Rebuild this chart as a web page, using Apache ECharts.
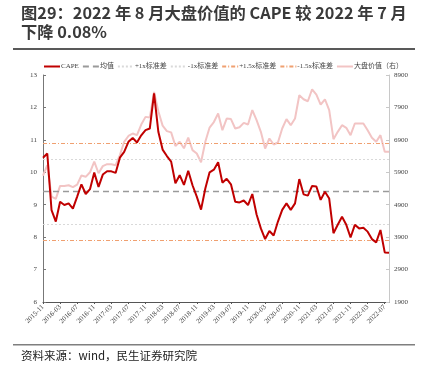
<!DOCTYPE html>
<html><head><meta charset="utf-8">
<script src="https://cdn.jsdelivr.net/npm/echarts@6/dist/echarts.min.js"></script>
<style>html,body{margin:0;padding:0;background:#fff}#c{width:428px;height:370px}</style>
</head><body><div id="c"></div>
<script>
// categories: monthly 2015-11 .. 2022-08
const months = [];
(function(){ let y=2015,m=11; for(let i=0;i<82;i++){ months.push(y+'-'+(m<10?'0'+m:m)); m++; if(m>12){m=1;y++;} } })();

const cape = [10.45,10.58,8.83,8.48,9.09,8.99,9.04,8.88,9.25,9.63,
  9.33,9.48,9.99,9.55,9.93,10.03,10.03,9.98,10.45,10.63,
  10.94,11.06,10.92,11.14,11.30,11.35,12.43,11.25,10.70,10.50,
  10.33,9.66,9.91,9.61,10.05,9.60,9.25,8.85,9.50,10.00,
  10.08,10.31,9.68,9.80,9.63,9.09,9.07,9.13,8.99,9.33,
  8.70,8.27,7.94,8.19,8.05,8.48,8.84,9.04,8.84,9.04,
  9.79,9.32,9.28,9.58,9.56,9.15,9.40,9.19,8.12,8.38,
  8.63,8.38,7.99,8.38,8.27,8.29,8.17,7.94,7.84,8.22,
  7.53,7.52];
const largeValue = [5800,6120,5150,5080,5480,5480,5500,5440,5520,5800,
  5760,5900,6230,5870,6090,6150,6150,6120,6430,6840,
  7020,7096,7045,7373,7609,7588,8380,7780,7340,7170,
  7130,6710,6840,6640,6970,6583,6480,6210,6840,7280,
  7450,7711,7198,7557,7540,7250,7290,7424,7373,7820,
  7506,7147,6634,6942,6757,6819,7250,7537,7352,7557,
  8275,8152,8091,8460,8296,7988,8152,7814,6922,7147,
  7352,7270,7045,7404,7404,7404,7198,6963,6840,7045,
  6532,6532];
const statNames = ['均值','+1x标准差','-1x标准差','+1.5x标准差','-1.5x标准差'];
const statValues = [9.4, 10.4, 8.4, 10.9, 7.9];

const statStyles = [
  {color:'#9a9a9a', type:[6,4], width:1.3},
  {color:'#d9d9d9', type:[2,2], width:1},
  {color:'#d9d9d9', type:[2,2], width:1},
  {color:'#f0a070', type:[4,2,1,2], width:1},
  {color:'#f0a070', type:[4,2,1,2], width:1}
];

const chart = echarts.init(document.getElementById('c'), null, {renderer:'canvas'});
const serif = '"Liberation Serif","Noto Sans CJK SC",serif';
const series = [{
  name:'CAPE', type:'line', data:cape, yAxisIndex:0, symbol:'none', z:5,
  lineStyle:{color:'#c00000', width:2}, itemStyle:{color:'#c00000'}
}];
statNames.forEach((n,i)=>{
  series.push({
    name:n, type:'line', data:[], yAxisIndex:0, symbol:'none',
    lineStyle:statStyles[i], itemStyle:{color:statStyles[i].color},
    markLine:{silent:true, symbol:'none', label:{show:false},
      lineStyle:statStyles[i], data:[{yAxis:statValues[i], label:{show:false}}]}
  });
});
series.push({
  name:'大盘价值（右）', type:'line', data:largeValue, yAxisIndex:1, symbol:'none', z:3,
  lineStyle:{color:'#f2c4c4', width:2}, itemStyle:{color:'#f2c4c4'}
});

chart.setOption({
  animation:false,
  backgroundColor:'#fff',
  title:{
    text:'图29：2022 年 8 月大盘价值的 CAPE 较 2022 年 7 月\n下降 0.08%',
    left:21, top:4, padding:0,
    textStyle:{fontFamily:'"Noto Sans CJK SC",sans-serif', fontSize:16.3, fontWeight:'bold', color:'#3a3a3a', lineHeight:18.5}
  },
  legend:{
    top:63, left:43, itemWidth:16, itemHeight:8, itemGap:3, padding:0,
    itemStyle:{opacity:0},
    textStyle:{fontFamily:serif, fontSize:7, color:'#444', padding:[0,0,0,-4]},
    data:['CAPE'].concat(statNames).concat(['大盘价值（右）'])
  },
  grid:{left:43, right:39, top:75, bottom:68, containLabel:false},
  xAxis:{
    type:'category', data:months, boundaryGap:false,
    axisLine:{lineStyle:{color:'#555', width:1}},
    axisTick:{show:true, interval:3, length:2, lineStyle:{color:'#555'}},
    axisLabel:{interval:3, rotate:45, fontFamily:serif, fontSize:7, color:'#444', margin:4}
  },
  yAxis:[{
    type:'value', min:6, max:13, interval:1, position:'left',
    axisLine:{show:true, lineStyle:{color:'#777'}},
    axisTick:{show:true, inside:true, length:3, lineStyle:{color:'#777'}},
    splitLine:{show:false},
    axisLabel:{fontFamily:serif, fontSize:7, color:'#444', margin:6}
  },{
    type:'value', min:1900, max:8900, interval:1000, position:'right',
    axisLine:{show:true, lineStyle:{color:'#c8c8c8'}},
    axisTick:{show:true, inside:true, length:3, lineStyle:{color:'#c8c8c8'}},
    splitLine:{show:false},
    axisLabel:{fontFamily:serif, fontSize:7, color:'#444', margin:5, formatter:function(v){return String(v);}}
  }],
  series:series,
  graphic:[
    {type:'rect', shape:{x:13, y:48, width:402, height:2}, style:{fill:'#595959'}},
    {type:'rect', shape:{x:13, y:344, width:402, height:1.5}, style:{fill:'#7f7f7f'}},
    {type:'text', left:21, top:350, style:{text:'资料来源：wind，民生证券研究院', fontFamily:'"Noto Sans CJK SC",sans-serif', fontSize:11.5, fill:'#222'}}
  ]
});
</script></body></html>
